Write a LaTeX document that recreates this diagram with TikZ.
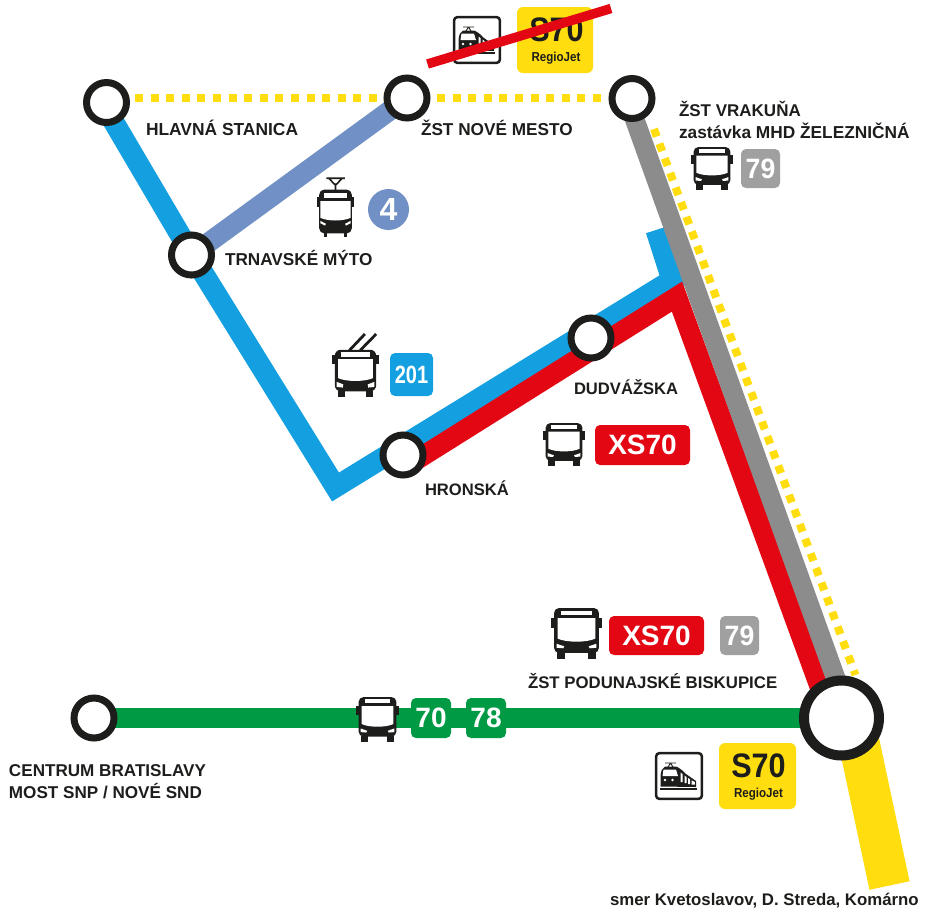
\documentclass[tikz,border=0pt]{standalone}
\usepackage{fontspec}
\usepackage{graphicx}
\setmainfont{Liberation Sans}[BoldFont={Liberation Sans Bold}]
\newcommand{\fsz}[1]{\fontsize{#1}{#1}\selectfont\bfseries}
\definecolor{cblue}{HTML}{139FE0}
\definecolor{cperi}{HTML}{7090C6}
\definecolor{cred}{HTML}{E30613}
\definecolor{cgray}{HTML}{8C8C8C}
\definecolor{cbadge}{HTML}{A0A0A0}
\definecolor{cgreen}{HTML}{009A44}
\definecolor{cyellow}{HTML}{FFDD0F}
\definecolor{cdark}{HTML}{1D1D1B}
\tikzset{
  stationnode/.style={circle,draw=cdark,fill=white,line width=7pt,minimum size=40pt,inner sep=0pt,outer sep=0pt},
  bigstation/.style={circle,draw=cdark,fill=white,line width=10pt,minimum size=75pt,inner sep=0pt,outer sep=0pt},
  lbl/.style={anchor=base west,inner sep=0pt,outer sep=0pt,text=cdark,font=\fsz{#1}},
  lbl/.default=17,
  badge/.style={rounded corners=5pt,inner sep=0pt,outer sep=0pt,text=white,font=\fsz{28}},
  yellowdots/.style={draw=cyellow,line width=8pt,dash pattern=on 8pt off 7.6pt},
  busicon/.pic={
    \fill[cdark] (0,19) rectangle (6,39);
    \fill[cdark] (94,19) rectangle (100,39);
    \fill[cdark,rounded corners=5pt] (6,0) rectangle (94,88);
    \fill[white] (20,5) rectangle (80,13);
    \fill[white] (13,20) -- (87,20) -- (87,60) .. controls (70,68) and (30,68) .. (13,60) -- cycle;
    \fill[white] (11,70) -- (26,75) -- (24,79) -- (11,78) -- cycle;
    \fill[white] (89,70) -- (74,75) -- (76,79) -- (89,78) -- cycle;
    \fill[cdark] (11,86) rectangle (28,100);
    \fill[cdark] (72,86) rectangle (89,100);
  },
  tramicon/.pic={
    \fill[cdark] (0,34) rectangle (6,50);
    \fill[cdark] (94,34) rectangle (100,50);
    \fill[cdark,rounded corners=5pt] (6,21) rectangle (94,94);
    \fill[white] (18,27) rectangle (82,35);
    \fill[white] (9,40) -- (91,40) -- (91,68) .. controls (70,74) and (30,74) .. (9,68) -- cycle;
    \fill[white] (9,73) -- (24,78) -- (22,81) -- (9,77) -- cycle;
    \fill[white] (91,73) -- (76,78) -- (78,81) -- (91,77) -- cycle;
    \fill[cdark] (18,93) rectangle (28,100);
    \fill[cdark] (72,93) rectangle (82,100);
    \draw[cdark,line width=1.6pt] (25,2) -- (75,2) (32,2) -- (47,12) -- (53,12) -- (68,2) (50,12) -- (50,22);
  },
  trolleyicon/.pic={
    \fill[cdark] (0,33) rectangle (6,48);
    \fill[cdark] (94,33) rectangle (100,48);
    \fill[cdark,rounded corners=6pt] (6,25) rectangle (94,91);
    \fill[white] (20,29) rectangle (80,37);
    \fill[white] (13,40) -- (87,40) -- (87,70) .. controls (70,76) and (30,76) .. (13,70) -- cycle;
    \fill[white] (10,76) -- (24,80) -- (23,85) -- (10,84) -- cycle;
    \fill[white] (90,76) -- (76,80) -- (77,85) -- (90,84) -- cycle;
    \fill[cdark] (12,90) rectangle (28,100);
    \fill[cdark] (72,90) rectangle (88,100);
    \draw[cdark,line width=2.8pt] (37,26) -- (70,0) (60,26) -- (94,0);
  },
  trainicon/.pic={
    \draw[cdark,fill=white,line width=2.5pt,rounded corners=3pt] (1.2,1.2) rectangle (46.8,46.8);
    \draw[cdark,line width=.9pt] (10,11) -- (21,11) (15.5,11) -- (13,15) (15.5,11) -- (18,15);
    \fill[cdark] (5.5,34.5) -- (5.5,24) .. controls (6,19) and (7,16) .. (10,14.5) -- (21,14.5) .. controls (25,16) and (28,19) .. (31,22) -- (41,29) -- (41,35) -- cycle;
    \fill[white] (8.5,17.5) -- (21,17.5) -- (23,24) -- (7.5,24) -- cycle;
    \fill[white] (25.5,20.5) -- (27.5,22) -- (27.5,30) -- (25.5,30) -- cycle;
    \fill[white] (29.5,23.5) -- (31.5,25) -- (31.5,31) -- (29.5,31) -- cycle;
    \fill[white] (33,26) -- (35,27.3) -- (35,32) -- (33,32) -- cycle;
    \fill[white] (36.5,28.3) -- (39.8,30) -- (39.8,32.5) -- (36.5,32.5) -- cycle;
    \fill[white] (10,28) circle (1.3);
    \fill[white] (17.5,28) circle (1.3);
    \fill[cdark] (5,36.2) rectangle (42,37.8);
  },
}
\begin{document}
\begin{tikzpicture}[x=1pt,y=-1pt]
\useasboundingbox (0,0) rectangle (932,914);
% stations
\coordinate (hsc) at (106.5,102.5);
\coordinate (znmc) at (407,98);
\coordinate (vrkc) at (632,98.5);
\coordinate (tmc) at (191.5,255);
\coordinate (dudc) at (591,338);
\coordinate (hroc) at (403,455);
\coordinate (podc) at (841.5,718);
\coordinate (wc) at (94,718);
% helper points
\coordinate (blueA) at (102,102);
\coordinate (blueB) at (192,255);
\coordinate (blueC) at (335.5,487);
\coordinate (blueD) at (672,280);
\coordinate (blueE) at (656,230);
\coordinate (redA) at (410,464);
\coordinate (redB) at (677,296.6);
\coordinate (redC) at (831,718);
\coordinate (grayA) at (627,98);
\coordinate (grayB) at (850,718);
\coordinate (dotA) at (654,129);
\coordinate (dotB) at (855.5,675);
\coordinate (yelA) at (850,700);
\coordinate (yelB) at (889.5,885.5);
\coordinate (xA) at (427.5,64);
\coordinate (xB) at (611,8.5);
\coordinate (dot1a) at (135,98);
\coordinate (dot1b) at (378,98);
\coordinate (dot2a) at (437,98);
\coordinate (dot2b) at (602,98);
% lines
\draw[cyellow,line width=41pt] (yelA) -- (yelB);
\draw[yellowdots] (dot1a) -- (dot1b);
\draw[yellowdots] (dot2a) -- (dot2b);
\draw[yellowdots] (dotA) -- (dotB);
\draw[cgreen,line width=20pt] (wc) -- (podc);
\draw[cblue,line width=21pt,miter limit=10] (blueA) -- (blueB) -- (blueC) -- (blueD) -- (blueE);
\draw[cperi,line width=20pt] (znmc) -- (tmc);
\draw[cred,line width=20pt,miter limit=10] (redA) -- (redB) -- (redC);
\draw[cgray,line width=19.5pt] (grayA) -- (grayB);
% station circles
\node[stationnode] (hs) at (hsc) {};
\node[stationnode] (znm) at (znmc) {};
\node[stationnode] (vrk) at (vrkc) {};
\node[stationnode] (tm) at (tmc) {};
\node[stationnode] (dud) at (dudc) {};
\node[stationnode] (hro) at (hroc) {};
\node[stationnode] (w) at (wc) {};
\node[bigstation] (pod) at (podc) {};
% labels
\node[lbl=17.4] (l1) at (146,135.5) {HLAVNÁ STANICA};
\node[lbl=17.2] (l2) at (421,135.5) {ŽST NOVÉ MESTO};
\node[lbl=17.2] (l3) at (225,265) {TRNAVSKÉ MÝTO};
\node[lbl=17] (l4) at (679,116.5) {ŽST VRAKUŇA};
\node[lbl=17.3] (l5) at (679,138.5) {zastávka MHD ŽELEZNIČNÁ};
\node[lbl=16.6] (l6) at (574,394.5) {DUDVÁŽSKA};
\node[lbl=16.6] (l7) at (425,495.5) {HRONSKÁ};
\node[lbl=16.8] (l8) at (528,688.5) {ŽST PODUNAJSKÉ BISKUPICE};
\node[lbl=17.1] (l9) at (9,776.5) {CENTRUM BRATISLAVY};
\node[lbl=17.1] (l10) at (9,798.5) {MOST SNP / NOVÉ SND};
\node[lbl=16.8] (l11) at (610,905.5) {smer Kvetoslavov, D. Streda, Komárno};
% top S70 badge
\fill[cyellow,rounded corners=6pt] (517,7) rectangle (593,73);
\node[inner sep=0pt,text=cdark,font=\fsz{34}] (s70a) at (556.5,30) {\scalebox{.9}[1]{S70}};
\node[inner sep=0pt,text=cdark,font=\fsz{13}] (rja) at (556,58.5) {\scalebox{.89}[1]{RegioJet}};
\pic at (453,16) {trainicon};
\draw[cred,line width=9.5pt] (xA) -- (xB);
% bottom S70 badge
\fill[cyellow,rounded corners=6pt] (719,743) rectangle (796,809);
\node[inner sep=0pt,text=cdark,font=\fsz{34}] (s70b) at (758.5,766) {\scalebox{.9}[1]{S70}};
\node[inner sep=0pt,text=cdark,font=\fsz{13}] (rjb) at (758.5,794) {\scalebox{.89}[1]{RegioJet}};
\pic at (655,752) {trainicon};
% badges
\node[badge,fill=cbadge,minimum width=39pt,minimum height=39pt] (b79a) at (760.5,168.5) {\scalebox{.95}[1]{79}};
\node[circle,fill=cperi,inner sep=0pt,minimum size=41pt,text=white,font=\fsz{32}] (b4) at (388.5,209.5) {4};
\node[badge,fill=cblue,minimum width=43pt,minimum height=43pt,font=\fsz{25}] (b201) at (411.5,374.5) {\scalebox{.8}[1]{201}};
\node[badge,fill=cred,minimum width=95pt,minimum height=40pt] (bxs1) at (642.5,445) {XS70};
\node[badge,fill=cred,minimum width=95pt,minimum height=39pt] (bxs2) at (656.5,635.5) {XS70};
\node[badge,fill=cbadge,minimum width=39pt,minimum height=39pt] (b79b) at (739.5,635.5) {\scalebox{.95}[1]{79}};
\node[badge,fill=cgreen,minimum width=40pt,minimum height=40pt] (b70) at (431,718) {70};
\node[badge,fill=cgreen,minimum width=40pt,minimum height=40pt] (b78) at (486,718) {78};
% vehicle icons
\pic[xscale=.42,yscale=.43] at (691,147) {busicon};
\pic[xscale=.42,yscale=.43] at (543,423) {busicon};
\pic[xscale=.51,yscale=.51] at (551,608) {busicon};
\pic[xscale=.43,yscale=.45] at (356,697) {busicon};
\pic[xscale=.37,yscale=.6] at (317,177) {tramicon};
\pic[xscale=.47,yscale=.63] at (332,334) {trolleyicon};
\end{tikzpicture}
\end{document}
